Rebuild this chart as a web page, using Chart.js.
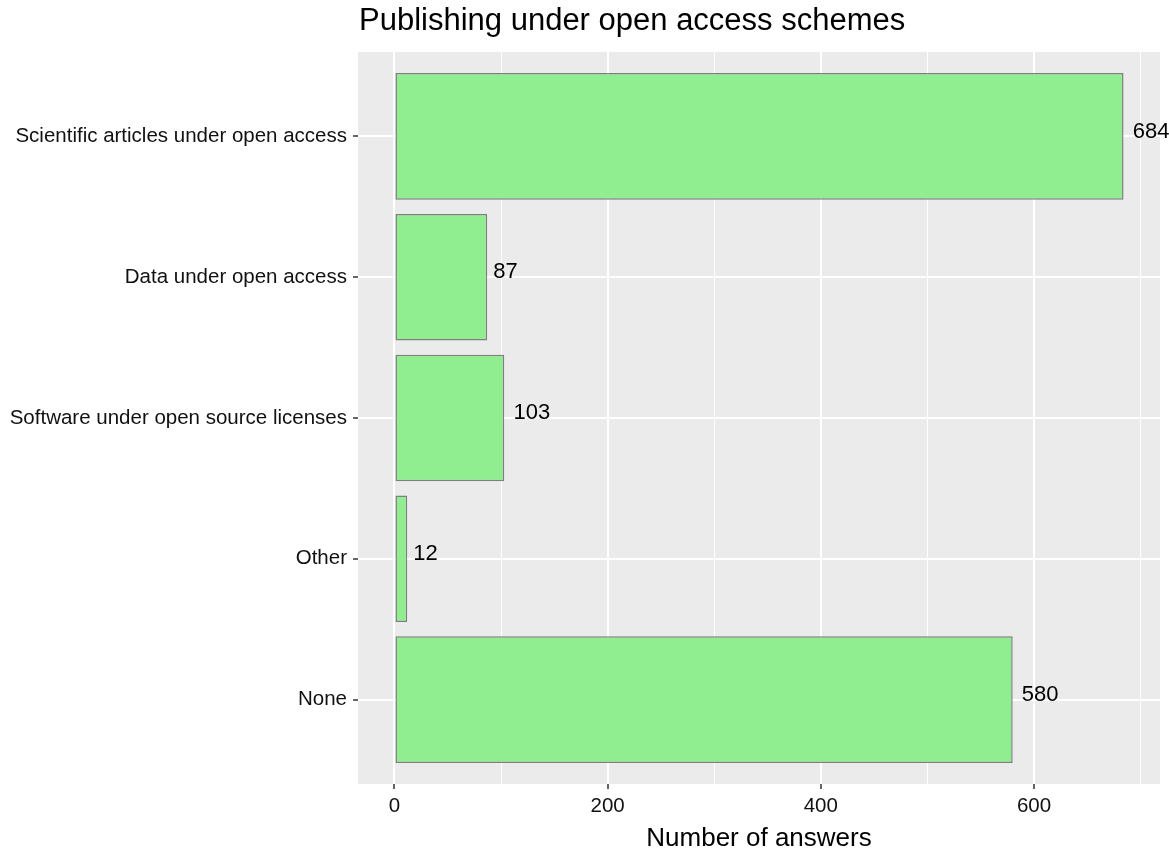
<!DOCTYPE html>
<html>
<head>
<meta charset="utf-8">
<script src="https://cdn.jsdelivr.net/npm/chart.js@4"></script>
<style>
  html, body { margin: 0; padding: 0; background: #ffffff; }
  #wrap { width: 1169px; height: 854px; position: relative; }
</style>
</head>
<body>
<div id="wrap"><canvas id="c" width="1169" height="854"></canvas></div>
<script>
// ---- data ----
const categories = [
  "Scientific articles under open access",
  "Data under open access",
  "Software under open source licenses",
  "Other",
  "None"
];
const answers = [684, 87, 103, 12, 580];
const xMajorTicks = [0, 200, 400, 600];
const xMinorTicks = [100, 300, 500, 700];
const chartTitle = "Publishing under open access schemes";
const xAxisTitle = "Number of answers";

const FONT = "'Liberation Sans', Arial, Helvetica, sans-serif";

const panelBg = {
  id: 'panelBg',
  beforeDraw(chart) {
    const a = chart.chartArea, ctx = chart.ctx;
    ctx.save();
    ctx.fillStyle = '#EBEBEB';
    ctx.fillRect(a.left, a.top, a.right - a.left, a.bottom - a.top);
    ctx.restore();
  }
};

const titlePlugin = {
  id: 'ggTitle',
  afterDraw(chart) {
    const ctx = chart.ctx;
    ctx.save();
    ctx.font = "31px " + FONT;
    ctx.fillStyle = '#000000';
    ctx.textAlign = 'left';
    ctx.textBaseline = 'middle';
    ctx.fillText(chartTitle, chart.chartArea.left + 1, 21);
    ctx.restore();
  }
};

const valueLabels = {
  id: 'valueLabels',
  afterDatasetsDraw(chart) {
    const ctx = chart.ctx;
    const meta = chart.getDatasetMeta(0);
    ctx.save();
    ctx.font = "22px " + FONT;
    ctx.fillStyle = '#000000';
    ctx.textAlign = 'left';
    ctx.textBaseline = 'middle';
    meta.data.forEach((bar, i) => {
      const txt = String(answers[i]);
      const w = ctx.measureText(txt).width;
      ctx.fillText(txt, bar.x + 0.25 * w, bar.y - 5);
    });
    ctx.restore();
  }
};

const allXTicks = xMajorTicks.concat(xMinorTicks).sort((a, b) => a - b);

new Chart(document.getElementById('c'), {
  type: 'bar',
  data: {
    datasets: [{
      data: answers.map((v, i) => ({ x: v, y: i })),
      backgroundColor: '#90EE90',
      borderColor: '#7F7F7F',
      borderWidth: 1.5,
      borderSkipped: false,
      barPercentage: 0.9,
      categoryPercentage: 1.0
    }]
  },
  options: {
    indexAxis: 'y',
    responsive: false,
    animation: false,
    layout: { padding: { top: 52, right: 9, left: 0, bottom: 0 } },
    plugins: {
      legend: { display: false },
      tooltip: { enabled: false },
      title: { display: false }
    },
    scales: {
      x: {
        type: 'linear',
        min: -34.2,
        max: 718.2,
        afterBuildTicks(axis) { axis.ticks = allXTicks.map(v => ({ value: v })); },
        afterFit(scale) { scale.height = 70; },
        border: { display: false },
        grid: {
          color: '#FFFFFF',
          lineWidth: ctx => (ctx.tick && xMajorTicks.includes(ctx.tick.value)) ? 2 : 1,
          drawTicks: true,
          tickLength: 5,
          tickWidth: 1.5,
          tickColor: ctx => (ctx.tick && xMajorTicks.includes(ctx.tick.value)) ? '#333333' : 'rgba(0,0,0,0)'
        },
        ticks: {
          autoSkip: false,
          maxRotation: 0,
          padding: 5,
          color: '#111111',
          font: { family: FONT, size: 20.5 },
          callback: v => xMajorTicks.includes(v) ? String(v) : ''
        },
        title: {
          display: true,
          text: xAxisTitle,
          color: '#000000',
          font: { family: FONT, size: 26 },
          padding: { top: 0, bottom: 0 }
        }
      },
      y: {
        type: 'linear',
        reverse: true,
        offset: false,
        min: -0.6,
        max: 4.6,
        afterBuildTicks(axis) { axis.ticks = categories.map((c, i) => ({ value: i })); },
        afterFit(scale) { scale.width = 358; },
        border: { display: false },
        grid: {
          offset: false,
          color: '#FFFFFF',
          lineWidth: 2,
          drawTicks: true,
          tickLength: 5,
          tickWidth: 1.5,
          tickColor: '#333333'
        },
        ticks: {
          autoSkip: false,
          padding: 6,
          color: '#111111',
          font: { family: FONT, size: 20.5 },
          callback: v => categories[v] !== undefined ? categories[v] : ''
        }
      }
    }
  },
  plugins: [panelBg, valueLabels, titlePlugin]
});
</script>
</body>
</html>
